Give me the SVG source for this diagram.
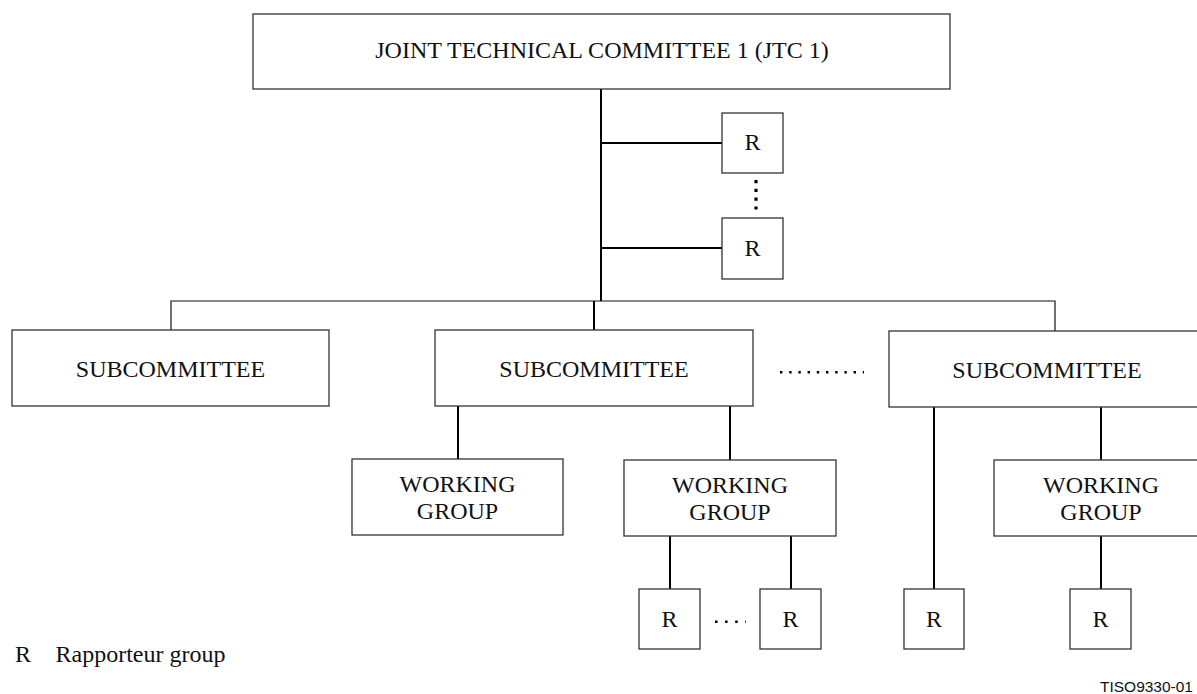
<svg xmlns="http://www.w3.org/2000/svg" width="1197" height="694" viewBox="0 0 1197 694">
<style>
.box{fill:#fff;stroke:#333;stroke-width:1.3}
.t{font-family:"Liberation Serif","Times New Roman",serif;font-size:24px;fill:#111;text-anchor:middle}
.c{stroke:#000;stroke-width:2;fill:none}
.bus{stroke:#111;stroke-width:1.2;fill:none}
.dots{stroke:#000;fill:none}
</style>
<rect width="1197" height="694" fill="#fff"/>
<g id="connectors">
<line class="c" x1="601" y1="89" x2="601" y2="301"/>
<line class="c" x1="601" y1="143" x2="722" y2="143"/>
<line class="c" x1="601" y1="248" x2="722" y2="248"/>
<polyline class="bus" points="171,330 171,301 1055,301 1055,331"/>
<line class="c" x1="594" y1="301" x2="594" y2="330"/>
<line class="c" x1="458" y1="406" x2="458" y2="459"/>
<line class="c" x1="730" y1="406" x2="730" y2="460"/>
<line class="c" x1="670" y1="536" x2="670" y2="589"/>
<line class="c" x1="791" y1="536" x2="791" y2="589"/>
<line class="c" x1="934" y1="407" x2="934" y2="589"/>
<line class="c" x1="1101" y1="407" x2="1101" y2="460"/>
<line class="c" x1="1101" y1="536" x2="1101" y2="589"/>
</g>
<g id="jtc1"><rect class="box" x="253" y="14" width="697" height="75"/><text class="t" x="602" y="58">JOINT TECHNICAL COMMITTEE 1 (JTC 1)</text></g>
<g id="r-top1"><rect class="box" x="722" y="113" width="61" height="60"/><text class="t" x="752.5" y="150">R</text></g>
<g id="r-top-dots"><line class="dots" x1="756" y1="180" x2="756" y2="210" stroke-width="3.2" stroke-dasharray="3.2 5.6"/></g>
<g id="r-top2"><rect class="box" x="722" y="218" width="61" height="61"/><text class="t" x="752.5" y="256">R</text></g>
<g id="sc1"><rect class="box" x="12" y="330" width="317" height="76"/><text class="t" x="170.5" y="377">SUBCOMMITTEE</text></g>
<g id="sc2"><rect class="box" x="435" y="330" width="318" height="76"/><text class="t" x="594" y="377">SUBCOMMITTEE</text></g>
<g id="sc-dots"><line class="dots" x1="780" y1="372.3" x2="864" y2="372.3" stroke-width="2.4" stroke-dasharray="2.4 6.8"/></g>
<g id="sc3"><rect class="box" x="889" y="331" width="317" height="76"/><text class="t" x="1047" y="378">SUBCOMMITTEE</text></g>
<g id="wg1"><rect class="box" x="352" y="459" width="211" height="76"/><text class="t" x="457.5" y="492">WORKING</text><text class="t" x="457.5" y="519">GROUP</text></g>
<g id="wg2"><rect class="box" x="624" y="460" width="212" height="76"/><text class="t" x="730" y="493">WORKING</text><text class="t" x="730" y="520">GROUP</text></g>
<g id="wg3"><rect class="box" x="994" y="460" width="214" height="76"/><text class="t" x="1101" y="493">WORKING</text><text class="t" x="1101" y="520">GROUP</text></g>
<g id="r-a"><rect class="box" x="639" y="589" width="61" height="60"/><text class="t" x="669.5" y="627">R</text></g>
<g id="r-dots"><line class="dots" x1="715" y1="621.7" x2="746" y2="621.7" stroke-width="2.5" stroke-dasharray="2.5 7.6"/></g>
<g id="r-b"><rect class="box" x="760" y="589" width="61" height="60"/><text class="t" x="790.5" y="627">R</text></g>
<g id="r-c"><rect class="box" x="904" y="589" width="60" height="60"/><text class="t" x="934" y="627">R</text></g>
<g id="r-d"><rect class="box" x="1070" y="589" width="61" height="60"/><text class="t" x="1100.5" y="627">R</text></g>
<g id="legend">
<text x="15" y="662" font-family="Liberation Serif,'Times New Roman',serif" font-size="24" fill="#111">R</text>
<text x="55.5" y="662" font-family="Liberation Serif,'Times New Roman',serif" font-size="24" fill="#111">Rapporteur group</text>
</g>
<text x="1100" y="692" font-family="Liberation Sans,Arial,sans-serif" font-size="14" textLength="93" lengthAdjust="spacingAndGlyphs" fill="#111">TISO9330-01</text>
</svg>
